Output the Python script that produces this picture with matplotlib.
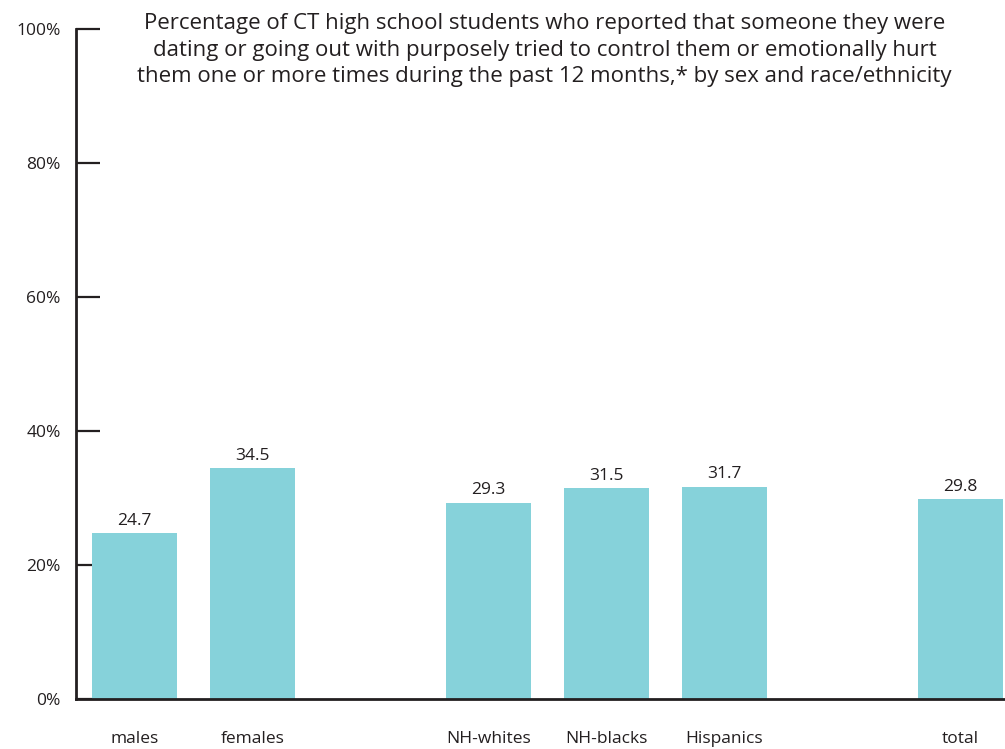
import matplotlib
matplotlib.use("Agg")
import matplotlib.pyplot as plt
from matplotlib.ticker import FuncFormatter

# category positions leave empty slots between the groups
categories = ['males', 'females', 'NH-whites', 'NH-blacks', 'Hispanics', 'total']
positions = [0, 1, 3, 4, 5, 7]
values = [24.7, 34.5, 29.3, 31.5, 31.7, 29.8]
yticks = [0, 20, 40, 60, 80, 100]

title = ("Percentage of CT high school students who reported that someone they were\n"
         "dating or going out with purposely tried to control them or emotionally hurt\n"
         "them one or more times during the past 12 months,* by sex and race/ethnicity")

bar_color = '#86d2da'
ink = '#231f20'

plt.rcParams['font.family'] = ['Open Sans', 'DejaVu Sans']

fig = plt.figure(figsize=(10.05, 7.49), dpi=100)
ax = fig.add_axes([0.0756, 0.0668, 0.9244, 0.8945])

bars = ax.bar(positions, values, width=0.72, color=bar_color, zorder=2)
for b, v in zip(bars, values):
    ax.annotate(f'{v:.1f}', (b.get_x() + b.get_width() / 2, v),
                xytext=(0, 3), textcoords='offset points',
                ha='center', va='bottom', fontsize=12.5, color=ink)

ax.set_xlim(-0.496, 7.38)
ax.set_ylim(0, 100)
ax.set_yticks(yticks)
ax.yaxis.set_major_formatter(FuncFormatter(lambda v, p: f'{v:.0f}%'))
ax.set_xticks(positions)
ax.set_xticklabels(categories)

for side in ['top', 'right']:
    ax.spines[side].set_visible(False)
for side in ['left', 'bottom']:
    ax.spines[side].set_color(ink)
    ax.spines[side].set_linewidth(2)
    ax.spines[side].set_zorder(3)

ax.tick_params(axis='y', direction='in', length=17, width=1.6, color=ink,
               labelsize=12.5, labelcolor=ink, pad=11)
ax.tick_params(axis='x', length=0, labelsize=12.5, labelcolor=ink, pad=23)

fig.text(0.542, 0.982, title, ha='center', va='top', fontsize=16.0,
         color=ink, linespacing=1.32)

fig.savefig('out.png', dpi=100)
